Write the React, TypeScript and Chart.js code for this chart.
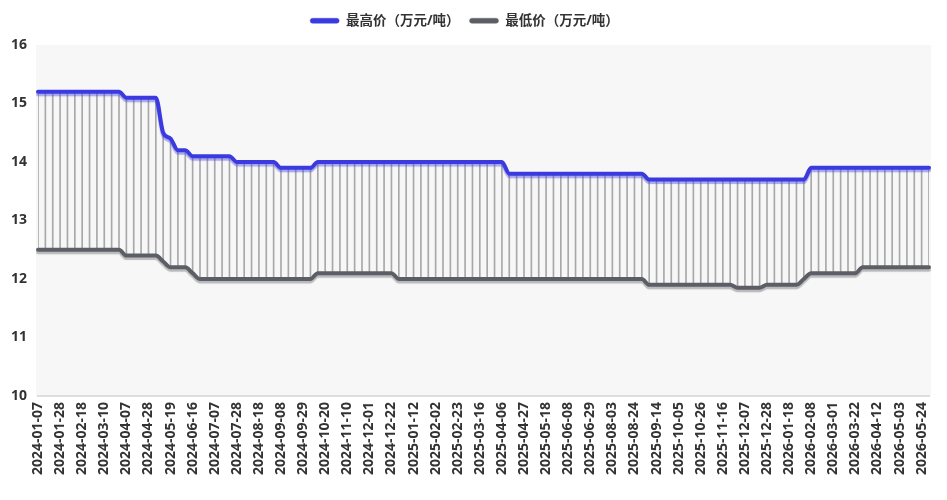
import React, { useEffect, useRef } from "react";
import { Chart, registerables } from "chart.js";

Chart.register(...registerables);

const dates: string[] = [
  "2024-01-07", "2024-01-14", "2024-01-21", "2024-01-28", "2024-02-04", "2024-02-11", "2024-02-18", "2024-02-25", "2024-03-03", "2024-03-10",
  "2024-03-17", "2024-03-24", "2024-04-07", "2024-04-14", "2024-04-21", "2024-04-28", "2024-05-05", "2024-05-12", "2024-05-19", "2024-05-26",
  "2024-06-02", "2024-06-16", "2024-06-23", "2024-06-30", "2024-07-07", "2024-07-14", "2024-07-21", "2024-07-28", "2024-08-04", "2024-08-11",
  "2024-08-18", "2024-08-25", "2024-09-01", "2024-09-08", "2024-09-15", "2024-09-22", "2024-09-29", "2024-10-06", "2024-10-13", "2024-10-20",
  "2024-10-27", "2024-11-03", "2024-11-10", "2024-11-17", "2024-11-24", "2024-12-01", "2024-12-08", "2024-12-15", "2024-12-22", "2024-12-29",
  "2025-01-05", "2025-01-12", "2025-01-19", "2025-01-26", "2025-02-02", "2025-02-09", "2025-02-16", "2025-02-23", "2025-03-02", "2025-03-09",
  "2025-03-16", "2025-03-23", "2025-03-30", "2025-04-06", "2025-04-13", "2025-04-20", "2025-04-27", "2025-05-04", "2025-05-11", "2025-05-18",
  "2025-05-25", "2025-06-01", "2025-06-08", "2025-06-15", "2025-06-22", "2025-06-29", "2025-07-06", "2025-07-20", "2025-08-03", "2025-08-10",
  "2025-08-17", "2025-08-24", "2025-08-31", "2025-09-07", "2025-09-14", "2025-09-21", "2025-09-28", "2025-10-05", "2025-10-12", "2025-10-19",
  "2025-10-26", "2025-11-02", "2025-11-09", "2025-11-16", "2025-11-23", "2025-11-30", "2025-12-07", "2025-12-14", "2025-12-21", "2025-12-28",
  "2026-01-04", "2026-01-11", "2026-01-18", "2026-01-25", "2026-02-01", "2026-02-08", "2026-02-15", "2026-02-22", "2026-03-01", "2026-03-08",
  "2026-03-15", "2026-03-22", "2026-03-29", "2026-04-05", "2026-04-12", "2026-04-19", "2026-04-26", "2026-05-03", "2026-05-10", "2026-05-17",
  "2026-05-24", "2026-05-31",
];

const highPrice: number[] = [
  15.2, 15.2, 15.2, 15.2, 15.2, 15.2, 15.2, 15.2, 15.2, 15.2,
  15.2, 15.2, 15.1, 15.1, 15.1, 15.1, 15.1, 14.5, 14.4, 14.2,
  14.2, 14.1, 14.1, 14.1, 14.1, 14.1, 14.1, 14.0, 14.0, 14.0,
  14.0, 14.0, 14.0, 13.9, 13.9, 13.9, 13.9, 13.9, 14.0, 14.0,
  14.0, 14.0, 14.0, 14.0, 14.0, 14.0, 14.0, 14.0, 14.0, 14.0,
  14.0, 14.0, 14.0, 14.0, 14.0, 14.0, 14.0, 14.0, 14.0, 14.0,
  14.0, 14.0, 14.0, 14.0, 13.8, 13.8, 13.8, 13.8, 13.8, 13.8,
  13.8, 13.8, 13.8, 13.8, 13.8, 13.8, 13.8, 13.8, 13.8, 13.8,
  13.8, 13.8, 13.8, 13.7, 13.7, 13.7, 13.7, 13.7, 13.7, 13.7,
  13.7, 13.7, 13.7, 13.7, 13.7, 13.7, 13.7, 13.7, 13.7, 13.7,
  13.7, 13.7, 13.7, 13.7, 13.7, 13.9, 13.9, 13.9, 13.9, 13.9,
  13.9, 13.9, 13.9, 13.9, 13.9, 13.9, 13.9, 13.9, 13.9, 13.9,
  13.9, 13.9,
];

const lowPrice: number[] = [
  12.5, 12.5, 12.5, 12.5, 12.5, 12.5, 12.5, 12.5, 12.5, 12.5,
  12.5, 12.5, 12.4, 12.4, 12.4, 12.4, 12.4, 12.3, 12.2, 12.2,
  12.2, 12.1, 12.0, 12.0, 12.0, 12.0, 12.0, 12.0, 12.0, 12.0,
  12.0, 12.0, 12.0, 12.0, 12.0, 12.0, 12.0, 12.0, 12.1, 12.1,
  12.1, 12.1, 12.1, 12.1, 12.1, 12.1, 12.1, 12.1, 12.1, 12.0,
  12.0, 12.0, 12.0, 12.0, 12.0, 12.0, 12.0, 12.0, 12.0, 12.0,
  12.0, 12.0, 12.0, 12.0, 12.0, 12.0, 12.0, 12.0, 12.0, 12.0,
  12.0, 12.0, 12.0, 12.0, 12.0, 12.0, 12.0, 12.0, 12.0, 12.0,
  12.0, 12.0, 12.0, 11.9, 11.9, 11.9, 11.9, 11.9, 11.9, 11.9,
  11.9, 11.9, 11.9, 11.9, 11.9, 11.85, 11.85, 11.85, 11.85, 11.9,
  11.9, 11.9, 11.9, 11.9, 12.0, 12.1, 12.1, 12.1, 12.1, 12.1,
  12.1, 12.1, 12.2, 12.2, 12.2, 12.2, 12.2, 12.2, 12.2, 12.2,
  12.2, 12.2,
];

const seriesNames = ["最高价（万元/吨）", "最低价（万元/吨）"];
const lineColors = ["#3a3ae0", "#5b5e64"];
const shadowColors = ["rgba(70,70,225,0.45)", "rgba(110,110,115,0.45)"];
const Y_MIN = 10;
const Y_MAX = 16;
const Y_STEP = 1;

const FONT = '"Open Sans", "Noto Sans CJK SC", sans-serif';

export default function App() {
  const canvasRef = useRef<HTMLCanvasElement | null>(null);

  useEffect(() => {
    const canvas = canvasRef.current;
    if (!canvas) return;

    const bgPlugin = {
      id: "plotBg",
      beforeDraw(chart: any) {
        const { ctx, chartArea } = chart;
        if (!chartArea) return;
        ctx.save();
        ctx.fillStyle = "#f7f7f7";
        ctx.fillRect(chartArea.left - 2, chartArea.top, chartArea.right - chartArea.left + 4, chartArea.bottom - chartArea.top);
        ctx.restore();
      },
    };

    const shadowPlugin = {
      id: "lineShadow",
      beforeDatasetDraw(chart: any, args: any) {
        if (args.meta.type !== "line") return;
        const ctx = chart.ctx;
        ctx.save();
        ctx.shadowColor = shadowColors[args.index] || "rgba(0,0,0,0.3)";
        ctx.shadowOffsetX = 0;
        ctx.shadowOffsetY = 2.5;
        ctx.shadowBlur = 1;
      },
      afterDatasetDraw(chart: any, args: any) {
        if (args.meta.type !== "line") return;
        chart.ctx.restore();
      },
    };

    const chart = new Chart(canvas, {
      type: "line",
      data: {
        labels: dates,
        datasets: [
          {
            type: "line",
            label: seriesNames[0],
            data: highPrice,
            borderColor: lineColors[0],
            backgroundColor: lineColors[0],
            borderWidth: 4,
            pointRadius: 0,
            cubicInterpolationMode: "monotone",
            borderCapStyle: "round",
            borderJoinStyle: "round",
            order: 1,
          } as any,
          {
            type: "line",
            label: seriesNames[1],
            data: lowPrice,
            borderColor: lineColors[1],
            backgroundColor: lineColors[1],
            borderWidth: 4,
            pointRadius: 0,
            cubicInterpolationMode: "monotone",
            borderCapStyle: "round",
            borderJoinStyle: "round",
            order: 2,
          } as any,
          {
            type: "bar",
            label: "range",
            data: dates.map((_, i) => [lowPrice[i], highPrice[i]]),
            backgroundColor: "#a8a8a8",
            borderWidth: 0,
            barThickness: 1,
            order: 3,
          } as any,
        ],
      },
      options: {
        animation: false,
        responsive: false,
        layout: { padding: { top: 4, right: 18, left: 0, bottom: 0 } },
        plugins: {
          tooltip: { enabled: false },
          legend: {
            position: "top",
            align: "center",
            labels: {
              boxWidth: 29,
              boxHeight: 5,
              padding: 10,
              color: "#333",
              useBorderRadius: true,
              borderRadius: 2.5,
              font: { family: FONT, size: 13.5, weight: "bold" },
              generateLabels: (ch: any) =>
                [0, 1].map((i) => ({
                  text: seriesNames[i],
                  fillStyle: lineColors[i],
                  strokeStyle: shadowColors[i],
                  lineWidth: 1,
                  hidden: false,
                  datasetIndex: i,
                  fontColor: "#333",
                  borderRadius: 2.5,
                })),
            },
          },
        },
        scales: {
          x: {
            type: "category",
            offset: false,
            grid: { display: false, drawTicks: false, offset: false },
            border: { display: true, color: "#dedede", width: 2 },
            ticks: {
              autoSkip: false,
              maxRotation: 90,
              minRotation: 90,
              padding: 6,
              color: "#333",
              font: { family: FONT, size: 14, weight: "bold" },
              callback: function (this: any, value: any, index: number) {
                return index % 3 === 0 ? this.getLabelForValue(value) : null;
              },
            },
            afterFit: (scale: any) => {
              scale.height = 104;
            },
          },
          y: {
            min: Y_MIN,
            max: Y_MAX,
            grid: { display: false, drawTicks: false },
            border: { display: false },
            ticks: {
              stepSize: Y_STEP,
              padding: 11,
              color: "#333",
              font: { family: FONT, size: 14, weight: "bold" },
            },
            afterFit: (scale: any) => {
              scale.width = 38;
            },
          },
        },
      } as any,
      plugins: [bgPlugin, shadowPlugin],
    });

    const legend: any = (chart as any).legend;
    if (legend) {
      const fit = legend.fit.bind(legend);
      legend.fit = () => {
        fit();
        legend.height += 7.5;
      };
      chart.update();
    }

    return () => {
      chart.destroy();
    };
  }, []);

  return (
    <div style={{ position: "fixed", left: 0, top: 0, width: 947, height: 500, background: "#fff" }}>
      <canvas ref={canvasRef} width={947} height={500} style={{ display: "block" }} />
    </div>
  );
}
